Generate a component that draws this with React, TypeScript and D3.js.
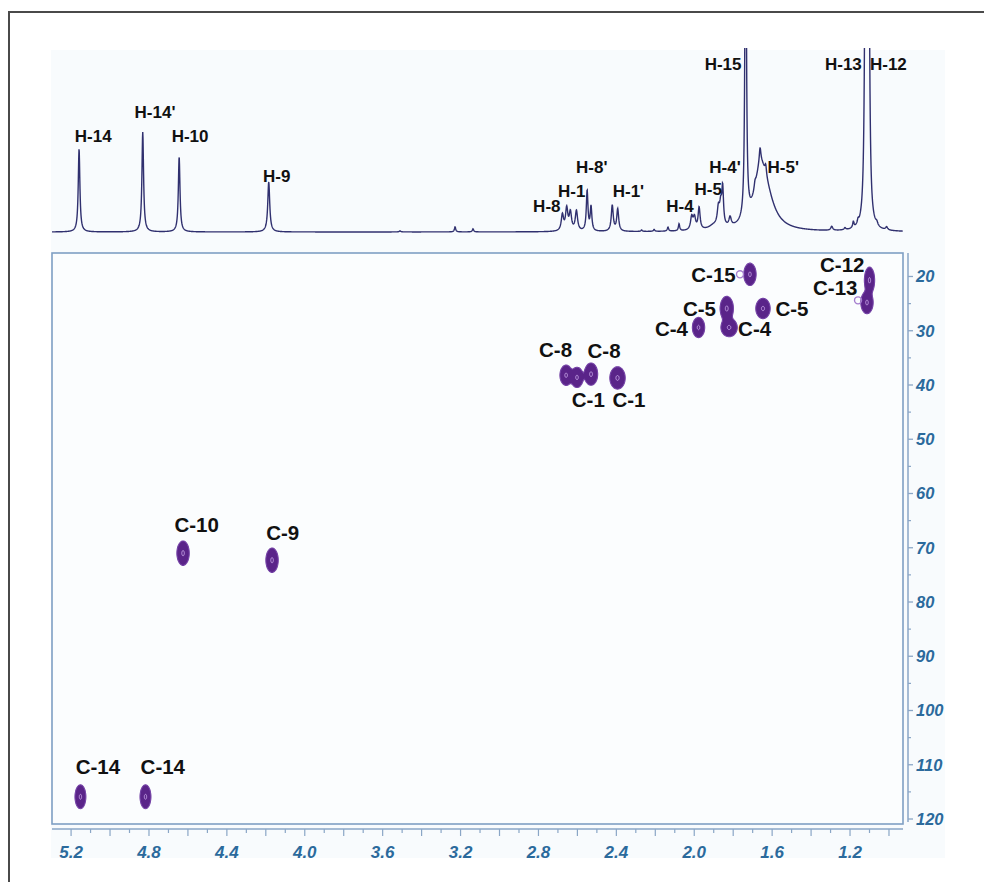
import React, { useMemo } from "react";
import * as d3 from "d3";

// 1H spectrum peaks (ppm, height in arbitrary units, half width in ppm)
const hPeakPpm = [5.159, 4.832, 4.645, 4.185, 3.511, 3.228, 3.136, 2.677, 2.655, 2.636, 2.605, 2.55, 2.53, 2.421, 2.393, 2.27, 2.206, 2.135, 2.078, 2.013, 1.999, 1.975, 1.876, 1.864, 1.854, 1.816, 1.736, 1.662, 1.632, 1.662, 1.633, 1.688, 1.294, 1.226, 1.183, 1.159, 1.12, 1.105, 1.063, 1.012, 1.9];
const hPeakHeight = [83, 100, 75, 50, 1, 5, 3, 16, 22, 18, 20, 40, 24, 26, 22, 1.5, 2, 4, 7, 13, 12, 22, 17, 20, 36, 9, 400, 45, 30, 15, 10, 6, 4, 2, 6, 4, 400, 400, 3, 3, 4];
const hPeakWidth = [0.005, 0.005, 0.005, 0.006, 0.005, 0.004, 0.004, 0.007, 0.007, 0.007, 0.007, 0.005, 0.005, 0.006, 0.006, 0.004, 0.004, 0.004, 0.004, 0.007, 0.007, 0.006, 0.007, 0.007, 0.005, 0.007, 0.004, 0.035, 0.051, 0.005, 0.005, 0.005, 0.006, 0.005, 0.004, 0.004, 0.005, 0.005, 0.006, 0.006, 0.03];

// 1H labels (ppm, intensity of text baseline)
const hLabels = ["H-14", "H-14'", "H-10", "H-9", "H-8", "H-1", "H-8'", "H-1'", "H-4", "H-5", "H-4'", "H-5'", "H-15", "H-13", "H-12"];
const hLabelPpm = [5.086, 4.769, 4.589, 4.144, 2.757, 2.629, 2.526, 2.338, 2.073, 1.928, 1.842, 1.543, 1.852, 1.234, 1.003];
const hLabelInt = [90, 114, 90, 50, 20, 35, 59, 35, 20, 37, 59, 59, 162, 162, 162];

// HSQC cross peaks (1H ppm, 13C ppm, sigma 1H, sigma 13C)
const crossH = [5.152, 4.818, 4.625, 4.168, 2.658, 2.602, 2.53, 2.394, 1.978, 1.833, 1.821, 1.647, 1.714, 1.1, 1.113];
const crossC = [115.9, 115.9, 71.0, 72.3, 38.2, 38.6, 38.0, 38.7, 29.4, 25.9, 29.4, 25.9, 19.6, 20.7, 24.8];
const crossSH = [0.0132, 0.0132, 0.015, 0.015, 0.015, 0.015, 0.0162, 0.0187, 0.015, 0.0162, 0.0199, 0.0175, 0.015, 0.0125, 0.015];
const crossSC = [1.05, 1.05, 1.07, 1.07, 0.89, 0.89, 0.98, 0.98, 0.89, 1.07, 0.81, 0.89, 0.98, 1.16, 0.98];

// weak rings
const weakH = [1.765, 1.159];
const weakC = [19.6, 24.4];

// 13C labels
const cLabels = ["C-15", "C-12", "C-13", "C-5", "C-5", "C-4", "C-4", "C-8", "C-8", "C-1", "C-1", "C-10", "C-9", "C-14", "C-14"];
const cLabelH = [1.901, 1.24, 1.276, 1.973, 1.498, 2.117, 1.69, 2.712, 2.463, 2.544, 2.335, 4.555, 4.113, 5.062, 4.729];
const cLabelC = [21.05, 19.2, 23.5, 27.2, 27.2, 31.0, 31.0, 34.9, 35.0, 44.1, 44.1, 67.1, 68.6, 111.7, 111.7];

const xTickLabels = [5.2, 4.8, 4.4, 4.0, 3.6, 3.2, 2.8, 2.4, 2.0, 1.6, 1.2];
const yTickLabels = [20, 30, 40, 50, 60, 70, 80, 90, 100, 110, 120];

const W = 984;
const H = 882;
const X0 = 52, X1 = 903, Y0 = 253, Y1 = 824;

const levels = [0.11, 0.9];

export default function App() {
  const xS = d3.scaleLinear().domain([5.298, 0.928]).range([X0, X1]);
  const yC = d3.scaleLinear().domain([15.67, 120.92]).range([Y0, Y1]);
  const yI = d3.scaleLinear().domain([0, 184]).range([232, 48]);

  const spectrum = useMemo(() => {
    const pts = d3.range(X0, X1, 0.25).map((px) => {
      const ppm = xS.invert(px);
      let v = 0;
      hPeakPpm.forEach((p, i) => {
        const d = (ppm - p) / hPeakWidth[i];
        v += hPeakHeight[i] / (1 + d * d);
      });
      return [ppm, v] as [number, number];
    });
    return d3
      .line<[number, number]>()
      .x((d) => xS(d[0]))
      .y((d) => yI(d[1]))(pts);
  }, []);

  const contours = useMemo(() => {
    const gw = X1 - X0, gh = Y1 - Y0;
    const grid = new Float64Array(gw * gh);
    crossH.forEach((h, k) => {
      const cx = xS(h) - X0, cy = yC(crossC[k]) - Y0;
      const sx = Math.abs(xS(h + crossSH[k]) - xS(h));
      const sy = Math.abs(yC(crossC[k] + crossSC[k]) - yC(crossC[k]));
      const j0 = Math.max(0, Math.floor(cy - 4 * sy)), j1 = Math.min(gh - 1, Math.ceil(cy + 4 * sy));
      const i0 = Math.max(0, Math.floor(cx - 4 * sx)), i1 = Math.min(gw - 1, Math.ceil(cx + 4 * sx));
      for (let j = j0; j <= j1; j++) {
        for (let i = i0; i <= i1; i++) {
          const dx = (i + 0.5 - cx) / sx, dy = (j + 0.5 - cy) / sy;
          grid[j * gw + i] += Math.exp(-0.5 * (dx * dx + dy * dy));
        }
      }
    });
    return d3.contours().size([gw, gh]).thresholds(levels)(grid as any);
  }, []);

  const path = d3.geoPath();
  const minorX = d3.range(10, 53).map((v) => v / 10);
  const minorY = d3.range(25, 120, 10);
  const tickFont = { fontFamily: "Liberation Sans, Arial, sans-serif", fontWeight: 700, fontStyle: "italic" as const };
  const labFont = { fontFamily: "Liberation Sans, Arial, sans-serif", fontWeight: 700 };

  return (
    <svg width={W} height={H} style={{ position: "absolute", left: 0, top: 0, background: "#fff" }}>
      <defs>
        <clipPath id="spec">
          <rect x={X0} y={48} width={X1 - X0} height={190} />
        </clipPath>
      </defs>
      {/* tinted background */}
      <rect x={51} y={50} width={894} height={808} fill="#f8fbfd" />
      <path d={`M9,${H} V12 H${W}`} fill="none" stroke="#4a4a4a" strokeWidth={2} />

      {/* 1H spectrum */}
      <path d={spectrum || ""} fill="none" stroke="#30306f" strokeWidth={1.4} clipPath="url(#spec)" />
      {hLabels.map((t, i) => (
        <text key={"h" + i} x={xS(hLabelPpm[i])} y={yI(hLabelInt[i])} textAnchor="middle" fontSize={17} fill="#111" style={labFont}>
          {t}
        </text>
      ))}

      {/* 2D panel */}
      <rect x={X0} y={Y0} width={X1 - X0} height={Y1 - Y0} fill="#fbfdfe" stroke="#7f9fc4" strokeWidth={1.6} />
      <g transform={`translate(${X0},${Y0})`}>
        {contours.map((c, i) => (
          <path
            key={"c" + i}
            d={path(c as any) || ""}
            fill={i === 0 ? "#5a2489" : "none"}
            stroke={i === 0 ? "#7442a6" : "#c4a2e4"}
            strokeWidth={i === 0 ? 1.1 : 0.9}
          />
        ))}
      </g>
      {weakH.map((h, i) => (
        <ellipse
          key={"w" + i}
          cx={xS(h)}
          cy={yC(weakC[i])}
          rx={Math.abs(xS(h + 0.018) - xS(h))}
          ry={Math.abs(yC(weakC[i] + 0.65) - yC(weakC[i]))}
          fill="none"
          stroke="#a57ecf"
          strokeWidth={1.4}
        />
      ))}
      {cLabels.map((t, i) => (
        <text key={"cl" + i} x={xS(cLabelH[i])} y={yC(cLabelC[i])} textAnchor="middle" fontSize={20.5} fill="#111" style={labFont}>
          {t}
        </text>
      ))}

      {/* right axis */}
      <line x1={908} x2={908} y1={Y0} y2={822} stroke="#8aa6c6" strokeWidth={1.5} />
      {yTickLabels.map((v) => (
        <g key={"yt" + v}>
          <line x1={908} x2={913} y1={yC(v)} y2={yC(v)} stroke="#8aa6c6" strokeWidth={1.3} />
          <text x={916} y={yC(v)} dy="0.36em" fontSize={16.5} fill="#2b6a9c" style={tickFont}>
            {v}
          </text>
        </g>
      ))}
      {minorY.map((v) => (
        <line key={"ym" + v} x1={908} x2={911} y1={yC(v)} y2={yC(v)} stroke="#8aa6c6" strokeWidth={1.2} />
      ))}

      {/* bottom axis */}
      <line x1={X0} x2={X1} y1={829} y2={829} stroke="#8aa6c6" strokeWidth={1.5} />
      {minorX.map((v) => {
        const major = Math.round(v * 10) % 2 === 0;
        return <line key={"xm" + v} x1={xS(v)} x2={xS(v)} y1={829} y2={major ? 836 : 833} stroke="#8aa6c6" strokeWidth={1.2} />;
      })}
      {xTickLabels.map((v) => (
        <text key={"xt" + v} x={xS(v)} y={858} textAnchor="middle" fontSize={17} fill="#2b6a9c" style={tickFont}>
          {v.toFixed(1)}
        </text>
      ))}
    </svg>
  );
}
